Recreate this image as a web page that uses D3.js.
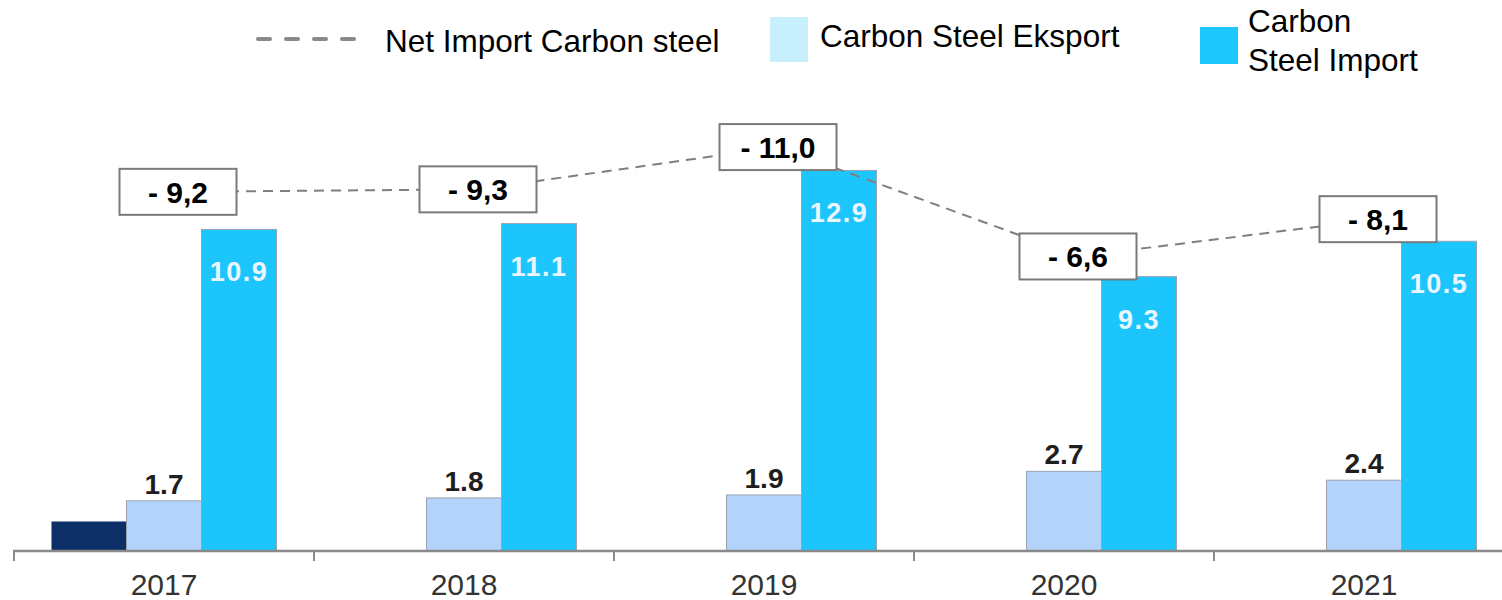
<!DOCTYPE html>
<html>
<head>
<meta charset="utf-8">
<script src="https://cdn.jsdelivr.net/npm/d3@7/dist/d3.min.js"></script>
<style>
  html, body { margin: 0; padding: 0; background: #fff; }
  svg { display: block; font-family: Arial, "Liberation Sans", sans-serif; }
</style>
</head>
<body>
<svg id="chart" width="1502" height="600"></svg>
<script>
const years = ["2017", "2018", "2019", "2020", "2021"];
const otherValues = [1.0, null, null, null, null];
const exportValues = [1.7, 1.8, 1.9, 2.7, 2.4];
const importValues = [10.9, 11.1, 12.9, 9.3, 10.5];
const netImport = [-9.2, -9.3, -11.0, -6.6, -8.1];
const netLabels = ["- 9,2", "- 9,3", "- 11,0", "- 6,6", "- 8,1"];
const exportLabels = ["1.7", "1.8", "1.9", "2.7", "2.4"];
const importLabels = ["10.9", "11.1", "12.9", "9.3", "10.5"];
const seriesKeys = ["other", "export", "import"];

const svg = d3.select("#chart");
const baseY = 551;

const x = d3.scaleBand().domain(years).range([14, 1514]).paddingInner(0).paddingOuter(0);
const x1 = d3.scaleBand().domain(seriesKeys).range([0, x.bandwidth()]).paddingInner(0).paddingOuter(0.5);
const y = d3.scaleLinear().domain([0, 14]).range([baseY, baseY - 14 * 29.5]);
const y2 = d3.scaleLinear().domain([-14, -4]).range([72.5, 321.1]);

const colors = { other: "#0b2f66", export: "#b3d3fa", import: "#1cc6fc" };

const rows = years.map((yr, i) => ({
  year: yr,
  other: otherValues[i],
  export: exportValues[i],
  import: importValues[i],
  net: netImport[i],
  netLabel: netLabels[i],
  exportLabel: exportLabels[i],
  importLabel: importLabels[i]
}));

// bars
const groups = svg.append("g").selectAll("g").data(rows).join("g")
  .attr("transform", d => `translate(${x(d.year)},0)`);

groups.selectAll("rect")
  .data(d => seriesKeys.filter(k => d[k] != null).map(k => ({ key: k, value: d[k] })))
  .join("rect")
  .attr("x", d => x1(d.key))
  .attr("width", x1.bandwidth())
  .attr("y", d => y(d.value))
  .attr("height", d => y(0) - y(d.value))
  .attr("fill", d => colors[d.key])
  .attr("stroke", d => d.key === "other" ? "none" : "#9aa4b0")
  .attr("stroke-width", 1);

// export labels
groups.append("text")
  .attr("x", x1("export") + x1.bandwidth() / 2)
  .attr("y", d => y(d.export) - 7)
  .attr("text-anchor", "middle")
  .attr("font-size", 28)
  .attr("font-weight", "bold")
  .attr("fill", "#1e1e1e")
  .text(d => d.exportLabel);

// import labels
groups.append("text")
  .attr("x", x1("import") + x1.bandwidth() / 2)
  .attr("y", d => y(d.import) + 52)
  .attr("text-anchor", "middle")
  .attr("font-size", 27)
  .attr("font-weight", "bold")
  .attr("letter-spacing", 1.5)
  .attr("fill", "#eaf6ff")
  .text(d => d.importLabel);

// axis
const axisG = svg.append("g").attr("transform", `translate(0,${baseY})`);
axisG.append("line").attr("x1", 13).attr("x2", 1502).attr("y1", 0).attr("y2", 0)
  .attr("stroke", "#8a8a8a").attr("stroke-width", 2.5);
axisG.selectAll("line.tick").data(years).join("line").attr("class", "tick")
  .attr("x1", d => x(d)).attr("x2", d => x(d)).attr("y1", 0).attr("y2", 10)
  .attr("stroke", "#8a8a8a").attr("stroke-width", 2);
const ax = d3.axisBottom(x).tickSize(0).tickPadding(23);
const axCall = svg.append("g").attr("transform", `translate(0,${baseY})`).call(ax);
axCall.select(".domain").remove();
axCall.selectAll("text").attr("font-size", 30).attr("fill", "#333")
  .attr("font-family", "Arial, 'Liberation Sans', sans-serif");

// net import line
const netX = d => x(d.year) + x.bandwidth() / 2 + 14;
const line = d3.line().x(netX).y(d => y2(d.net));
svg.append("path").datum(rows).attr("d", line)
  .attr("fill", "none").attr("stroke", "#7f7f7f").attr("stroke-width", 2)
  .attr("stroke-dasharray", "10,7");

const boxW = 117, boxH = 46;
const nb = svg.append("g").selectAll("g").data(rows).join("g")
  .attr("transform", d => `translate(${netX(d)},${y2(d.net)})`);
nb.append("rect").attr("x", -boxW / 2).attr("y", -boxH / 2).attr("width", boxW).attr("height", boxH)
  .attr("fill", "#fff").attr("stroke", "#7a7a7a").attr("stroke-width", 2);
nb.append("text").attr("text-anchor", "middle").attr("y", 11)
  .attr("font-size", 30).attr("font-weight", "bold").attr("fill", "#000")
  .text(d => d.netLabel);

// legend
const lg = svg.append("g");
lg.append("line").attr("x1", 258).attr("x2", 358).attr("y1", 39).attr("y2", 39)
  .attr("stroke", "#8a8a8a").attr("stroke-width", 4).attr("stroke-linecap", "round")
  .attr("stroke-dasharray", "12,16");
lg.append("text").attr("x", 385).attr("y", 52).attr("font-size", 31.5).attr("fill", "#000")
  .text("Net Import Carbon steel");
lg.append("rect").attr("x", 770).attr("y", 17).attr("width", 38).attr("height", 45).attr("fill", "#c8f0fc");
lg.append("text").attr("x", 820).attr("y", 47).attr("font-size", 31.5).attr("fill", "#000")
  .text("Carbon Steel Eksport");
lg.append("rect").attr("x", 1200).attr("y", 27).attr("width", 38).attr("height", 37).attr("fill", "#1ec8ff");
lg.append("text").attr("x", 1248).attr("y", 32).attr("font-size", 31.5).attr("fill", "#000")
  .text("Carbon");
lg.append("text").attr("x", 1248).attr("y", 71).attr("font-size", 31.5).attr("fill", "#000")
  .text("Steel Import");
</script>
</body>
</html>
